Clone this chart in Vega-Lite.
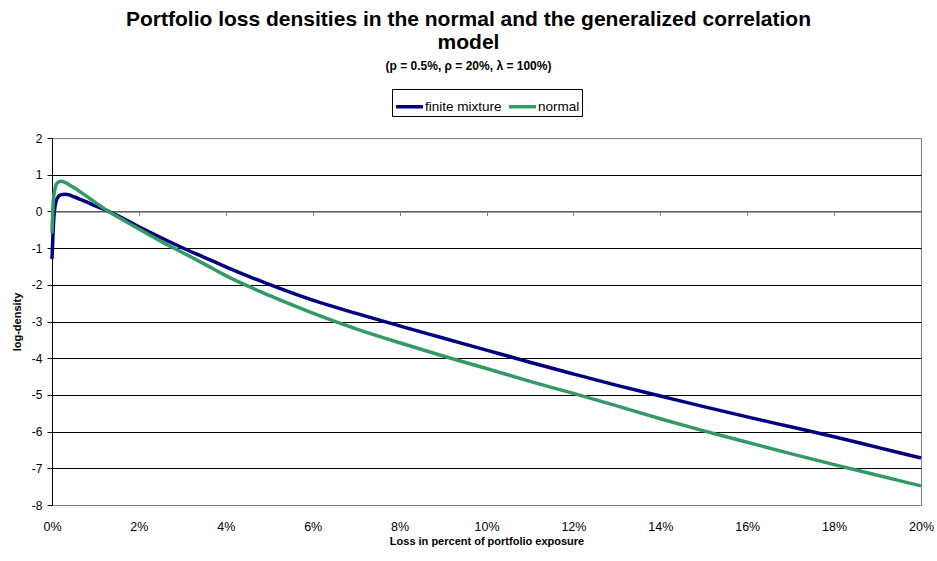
{
  "$schema": "https://vega.github.io/schema/vega-lite/v6.json",
  "autosize": "none",
  "width": 869,
  "height": 367,
  "padding": {"left": 52, "top": 138, "right": 16, "bottom": 56},
  "background": "white",
  "config": {
    "font": "Liberation Sans",
    "view": {"stroke": "#808080", "strokeWidth": 1},
    "axis": {"labelFont": "Liberation Sans", "titleFont": "Liberation Sans", "labelColor": "black", "titleColor": "black"}
  },
  "title": {
    "text": ["Portfolio loss densities in the normal and the generalized correlation", "model"],
    "subtitle": "(p = 0.5%, ρ = 20%, λ = 100%)",
    "font": "Liberation Sans",
    "fontSize": 21,
    "fontWeight": "bold",
    "lineHeight": 23,
    "subtitleFont": "Liberation Sans",
    "subtitleFontSize": 12,
    "subtitleFontWeight": "bold",
    "subtitleColor": "black",
    "subtitlePadding": 8,
    "color": "black",
    "anchor": "middle",
    "dx": -18,
    "offset": 17
  },
  "data": {
    "values": [
      {"x": 0, "v": -1.3, "series": "finite mixture"},
      {"x": 0.02, "v": -0.7, "series": "finite mixture"},
      {"x": 0.05, "v": -0.05, "series": "finite mixture"},
      {"x": 0.1, "v": 0.3, "series": "finite mixture"},
      {"x": 0.15, "v": 0.41, "series": "finite mixture"},
      {"x": 0.2, "v": 0.45, "series": "finite mixture"},
      {"x": 0.3, "v": 0.47, "series": "finite mixture"},
      {"x": 0.4, "v": 0.45, "series": "finite mixture"},
      {"x": 0.5, "v": 0.4, "series": "finite mixture"},
      {"x": 0.75, "v": 0.28, "series": "finite mixture"},
      {"x": 1, "v": 0.15, "series": "finite mixture"},
      {"x": 1.3, "v": 0, "series": "finite mixture"},
      {"x": 1.5, "v": -0.11, "series": "finite mixture"},
      {"x": 2, "v": -0.42, "series": "finite mixture"},
      {"x": 2.5, "v": -0.71, "series": "finite mixture"},
      {"x": 3, "v": -0.99, "series": "finite mixture"},
      {"x": 3.5, "v": -1.25, "series": "finite mixture"},
      {"x": 4, "v": -1.51, "series": "finite mixture"},
      {"x": 5, "v": -1.99, "series": "finite mixture"},
      {"x": 6, "v": -2.42, "series": "finite mixture"},
      {"x": 7, "v": -2.78, "series": "finite mixture"},
      {"x": 8, "v": -3.12, "series": "finite mixture"},
      {"x": 9, "v": -3.45, "series": "finite mixture"},
      {"x": 10, "v": -3.78, "series": "finite mixture"},
      {"x": 11, "v": -4.11, "series": "finite mixture"},
      {"x": 12, "v": -4.43, "series": "finite mixture"},
      {"x": 13, "v": -4.74, "series": "finite mixture"},
      {"x": 14, "v": -5.03, "series": "finite mixture"},
      {"x": 15, "v": -5.32, "series": "finite mixture"},
      {"x": 16, "v": -5.6, "series": "finite mixture"},
      {"x": 17, "v": -5.87, "series": "finite mixture"},
      {"x": 18, "v": -6.14, "series": "finite mixture"},
      {"x": 19, "v": -6.43, "series": "finite mixture"},
      {"x": 20, "v": -6.72, "series": "finite mixture"},
      {"x": 0, "v": -0.6, "series": "normal"},
      {"x": 0.02, "v": 0.1, "series": "normal"},
      {"x": 0.05, "v": 0.5, "series": "normal"},
      {"x": 0.1, "v": 0.74, "series": "normal"},
      {"x": 0.15, "v": 0.8, "series": "normal"},
      {"x": 0.2, "v": 0.82, "series": "normal"},
      {"x": 0.3, "v": 0.79, "series": "normal"},
      {"x": 0.4, "v": 0.72, "series": "normal"},
      {"x": 0.5, "v": 0.65, "series": "normal"},
      {"x": 0.75, "v": 0.45, "series": "normal"},
      {"x": 1, "v": 0.24, "series": "normal"},
      {"x": 1.3, "v": 0, "series": "normal"},
      {"x": 1.5, "v": -0.14, "series": "normal"},
      {"x": 2, "v": -0.48, "series": "normal"},
      {"x": 2.5, "v": -0.81, "series": "normal"},
      {"x": 3, "v": -1.12, "series": "normal"},
      {"x": 3.5, "v": -1.43, "series": "normal"},
      {"x": 4, "v": -1.75, "series": "normal"},
      {"x": 5, "v": -2.29, "series": "normal"},
      {"x": 6, "v": -2.77, "series": "normal"},
      {"x": 7, "v": -3.2, "series": "normal"},
      {"x": 8, "v": -3.58, "series": "normal"},
      {"x": 9, "v": -3.94, "series": "normal"},
      {"x": 10, "v": -4.28, "series": "normal"},
      {"x": 11, "v": -4.63, "series": "normal"},
      {"x": 12, "v": -4.96, "series": "normal"},
      {"x": 13, "v": -5.3, "series": "normal"},
      {"x": 14, "v": -5.65, "series": "normal"},
      {"x": 15, "v": -5.98, "series": "normal"},
      {"x": 16, "v": -6.29, "series": "normal"},
      {"x": 17, "v": -6.6, "series": "normal"},
      {"x": 18, "v": -6.9, "series": "normal"},
      {"x": 19, "v": -7.19, "series": "normal"},
      {"x": 20, "v": -7.48, "series": "normal"}
    ]
  },
  "resolve": {"axis": {"x": "independent"}},
  "layer": [
    {
      "mark": {"type": "line", "opacity": 0},
      "encoding": {
        "x": {
          "field": "x", "type": "quantitative",
          "scale": {"domain": [0, 20], "nice": false, "zero": false},
          "axis": {
            "orient": "bottom", "offset": -293.6, "values": [0, 2, 4, 6, 8, 10, 12, 14, 16, 18, 20],
            "labels": false, "title": null, "grid": false,
            "domainColor": "#808080", "domainWidth": 1.5, "tickColor": "#808080", "tickSize": 4, "tickWidth": 1
          }
        },
        "y": {
          "field": "v", "type": "quantitative",
          "scale": {"domain": [-8, 2], "nice": false, "zero": false},
          "axis": {
            "values": [-8, -7, -6, -5, -4, -3, -2, -1, 0, 1, 2],
            "labelExpr": "'' + datum.value",
            "labelFontSize": 12, "labelPadding": 5, "labelOverlap": false,
            "domainColor": "black", "domainWidth": 1,
            "tickColor": "black", "tickSize": 5,
            "grid": true,
            "gridColor": {"condition": {"test": "datum.value == 2 || datum.value == -8", "value": "#808080"}, "value": "black"},
            "gridWidth": 1,
            "title": "log-density", "titleFontSize": 11, "titleFontWeight": "bold", "titlePadding": 9
          }
        },
        "detail": {"field": "series"}
      }
    },
    {
      "mark": {"type": "line", "strokeWidth": 3.5, "interpolate": "monotone"},
      "encoding": {
        "x": {
          "field": "x", "type": "quantitative",
          "scale": {"domain": [0, 20], "nice": false, "zero": false},
          "axis": {
            "orient": "bottom", "values": [0, 2, 4, 6, 8, 10, 12, 14, 16, 18, 20],
            "labelExpr": "datum.value + '%'",
            "labelFontSize": 12.5, "labelPadding": 15, "labelFlush": false,
            "domain": false, "ticks": false, "grid": false,
            "title": "Loss in percent of portfolio exposure",
            "titleFontSize": 11, "titleFontWeight": "bold", "titlePadding": 3
          }
        },
        "y": {
          "field": "v", "type": "quantitative",
          "scale": {"domain": [-8, 2], "nice": false, "zero": false},
          "axis": {
            "values": [-8, -7, -6, -5, -4, -3, -2, -1, 0, 1, 2],
            "labelExpr": "'' + datum.value",
            "labelFontSize": 12, "labelPadding": 5, "labelOverlap": false,
            "domainColor": "black", "domainWidth": 1,
            "tickColor": "black", "tickSize": 5,
            "grid": true,
            "gridColor": {"condition": {"test": "datum.value == 2 || datum.value == -8", "value": "#808080"}, "value": "black"},
            "gridWidth": 1,
            "title": "log-density", "titleFontSize": 11, "titleFontWeight": "bold", "titlePadding": 9
          }
        },
        "color": {
          "field": "series", "type": "nominal",
          "scale": {"domain": ["finite mixture", "normal"], "range": ["#000080", "#339966"]},
          "legend": {
            "title": null, "orient": "none", "legendX": 340, "legendY": -49,
            "direction": "horizontal", "strokeColor": "black", "fillColor": "white", "padding": 2,
            "symbolType": "stroke", "symbolSize": 729, "symbolStrokeWidth": 3.5,
            "labelFontSize": 13.5, "labelFont": "Liberation Sans", "labelColor": "black", "labelOffset": 0,
            "columnPadding": 0
          }
        }
      }
    }
  ]
}
